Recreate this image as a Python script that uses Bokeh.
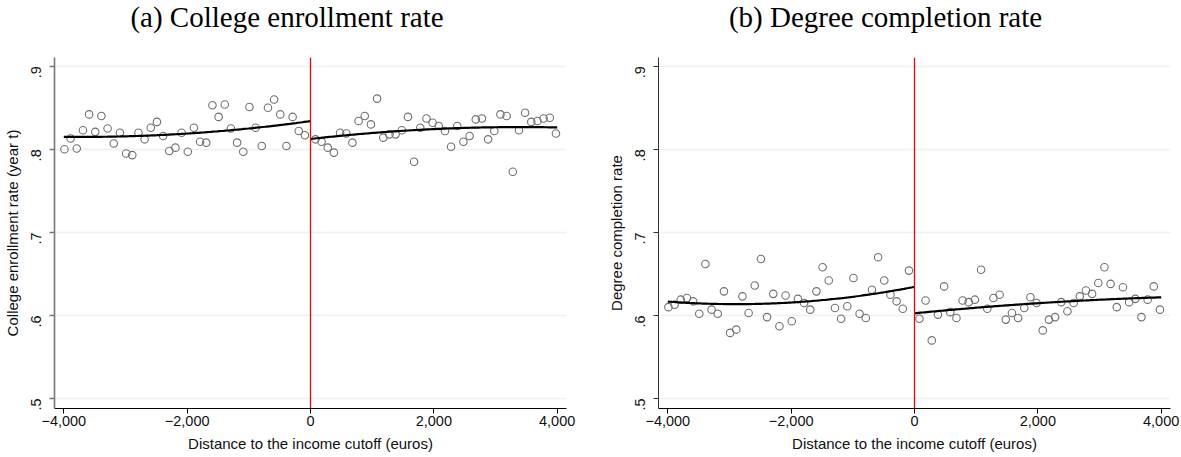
import numpy as np
from bokeh.plotting import figure
from bokeh.models import Range1d, FixedTicker, Span, Div
from bokeh.layouts import row, column
from bokeh.embed import file_html
from bokeh.resources import INLINE

# ---------------- data ----------------
bins_left = [-3990, -3890, -3790, -3690, -3590, -3490, -3390, -3290, -3190, -3090,
             -2990, -2890, -2790, -2690, -2590, -2490, -2390, -2290, -2190, -2090,
             -1990, -1890, -1790, -1690, -1590, -1490, -1390, -1290, -1190, -1090,
             -990, -890, -790, -690, -590, -490, -390, -290, -190, -90]
bins_right = [80, 180, 280, 380, 480, 580, 680, 780, 880, 980,
              1080, 1180, 1280, 1380, 1480, 1580, 1680, 1780, 1880, 1980,
              2080, 2180, 2280, 2380, 2480, 2580, 2680, 2780, 2880, 2980,
              3080, 3180, 3280, 3380, 3480, 3580, 3680, 3780, 3880, 3980]

enroll_left = [.800, .813, .801, .823, .842, .821, .840, .825, .807, .820,
               .795, .793, .820, .812, .826, .833, .816, .798, .802, .820,
               .797, .826, .809, .808, .853, .839, .854, .825, .808, .797,
               .851, .826, .804, .850, .860, .842, .804, .839, .822, .817]
enroll_right = [.812, .809, .802, .796, .820, .819, .808, .834, .840, .830,
                .861, .814, .818, .818, .823, .839, .785, .826, .837, .832,
                .828, .822, .803, .828, .809, .816, .836, .837, .812, .822,
                .842, .840, .773, .823, .844, .833, .834, .837, .838, .819]

degree_left = [.610, .613, .619, .621, .617, .602, .662, .607, .602, .629,
               .579, .583, .623, .603, .636, .668, .598, .626, .587, .624,
               .593, .620, .615, .607, .629, .658, .642, .609, .596, .611,
               .645, .602, .597, .631, .670, .642, .625, .617, .608, .654]
degree_right = [.596, .618, .570, .601, .635, .604, .597, .618, .616, .619,
                .655, .608, .621, .625, .595, .603, .597, .609, .622, .615,
                .582, .595, .598, .616, .605, .615, .623, .630, .626, .639,
                .658, .638, .610, .634, .616, .620, .598, .619, .635, .607]

# fitted (quadratic) lines, read at a few distances
enroll_fit_left_x = [-4000, -3000, -2000, -1000, 0]
enroll_fit_left_y = [.8150, .8158, .8185, .8255, .8338]
enroll_fit_right_x = [0, 1000, 2000, 3000, 4000]
enroll_fit_right_y = [.8125, .8195, .8242, .8268, .8262]
degree_fit_left_x = [-4000, -2700, -1600, -800, 0]
degree_fit_left_y = [.6166, .6141, .6172, .6248, .6344]
degree_fit_right_x = [0, 1400, 2750, 4000]
degree_fit_right_y = [.6026, .6116, .6180, .6218]

x_ticks = [-4000, -2000, 0, 2000, 4000]
x_tick_labels = ["\u22124,000", "\u22122,000", "0", "2,000", "4,000"]
y_ticks = [0.5, 0.6, 0.7, 0.8, 0.9]
y_tick_labels = [".5", ".6", ".7", ".8", ".9"]

titles = ["(a) College enrollment rate", "(b) Degree completion rate"]
y_labels = ["College enrollment rate (year t)", "Degree completion rate"]
x_label = "Distance to the income cutoff (euros)"

SANS = "Liberation Sans"
SERIF = "Liberation Serif"
TITLE_H = 57


def smooth(xs, ys):
    c = np.polyfit(xs, ys, 2)
    xx = np.linspace(min(xs), max(xs), 120)
    return xx, np.polyval(c, xx)


def title_div(text, width, margin_left, box_w):
    html = ('<div style="font-family: \'%s\', serif; font-size: 29px; line-height: 29px; '
            'text-align: center; color: black; margin: 0; padding: 3px 0 0 %dpx; '
            'width: %dpx; white-space: nowrap;">%s</div>' % (SERIF, margin_left, box_w, text))
    return Div(text=html, width=width, height=TITLE_H, margin=0)


def make_panel(ylab, yl, yr, fl, fr, width, left, right, yaxis_color, yaxis_w):
    p = figure(width=width, height=457 - TITLE_H, x_range=Range1d(-4151, 4151),
               y_range=Range1d(0.488, 0.9105), output_backend="svg",
               toolbar_location=None, min_border_left=left, min_border_right=right,
               min_border_top=0, min_border_bottom=49)
    p.outline_line_color = None
    p.background_fill_color = "white"
    p.border_fill_color = "white"

    p.xgrid.visible = False
    p.ygrid.ticker = FixedTicker(ticks=y_ticks)
    p.ygrid.grid_line_color = "#eaf2f3"
    p.ygrid.grid_line_width = 1.5

    xa = p.xaxis[0]
    xa.ticker = FixedTicker(ticks=x_ticks)
    xa.major_label_overrides = dict(zip(x_ticks, x_tick_labels))
    xa.axis_label = x_label
    ya = p.yaxis[0]
    ya.ticker = FixedTicker(ticks=y_ticks)
    ya.major_label_overrides = dict(zip(y_ticks, y_tick_labels))
    ya.axis_label = ylab
    ya.major_label_orientation = np.pi / 2
    for ax in (xa, ya):
        ax.minor_tick_line_color = None
        ax.major_tick_in = 0
        ax.major_tick_out = 5
        ax.major_label_text_font = SANS
        ax.major_label_text_font_size = "14.5px"
        ax.major_label_text_color = "#111111"
        ax.axis_label_text_font = SANS
        ax.axis_label_text_font_size = "15px"
        ax.axis_label_text_font_style = "normal"
        ax.axis_label_text_color = "#111111"
    xa.axis_line_color = "black"
    xa.major_tick_line_color = "black"
    xa.major_label_standoff = 2
    xa.axis_label_standoff = 6
    ya.axis_line_color = yaxis_color
    ya.axis_line_width = yaxis_w
    ya.major_tick_line_color = yaxis_color
    ya.major_tick_line_width = yaxis_w
    ya.major_label_standoff = 13
    ya.axis_label_standoff = 3

    p.add_layout(Span(location=0, dimension="height", line_color="red", line_width=1.3))

    p.scatter(bins_left, yl, marker="circle", size=7.5, fill_color=None,
              line_color="#707070", line_width=1.1)
    p.scatter(bins_right, yr, marker="circle", size=7.5, fill_color=None,
              line_color="#707070", line_width=1.1)
    for fx, fy in (fl, fr):
        xx, yy = smooth(fx, fy)
        p.line(xx, yy, line_color="black", line_width=2.2)
    return p


pa = make_panel(y_labels[0], enroll_left, enroll_right,
                (enroll_fit_left_x, enroll_fit_left_y), (enroll_fit_right_x, enroll_fit_right_y),
                590, 54, 24, "#777777", 1.6)
pb = make_panel(y_labels[1], degree_left, degree_right,
                (degree_fit_left_x, degree_fit_left_y), (degree_fit_right_x, degree_fit_right_y),
                591, 68, 11, "#333333", 1.0)
ta = title_div(titles[0], 590, 4, 570)
tb = title_div(titles[1], 591, 25, 566)

layout = row(column(ta, pa, spacing=0), column(tb, pb, spacing=0), spacing=0)
open("out.html", "w").write(file_html(layout, INLINE))
